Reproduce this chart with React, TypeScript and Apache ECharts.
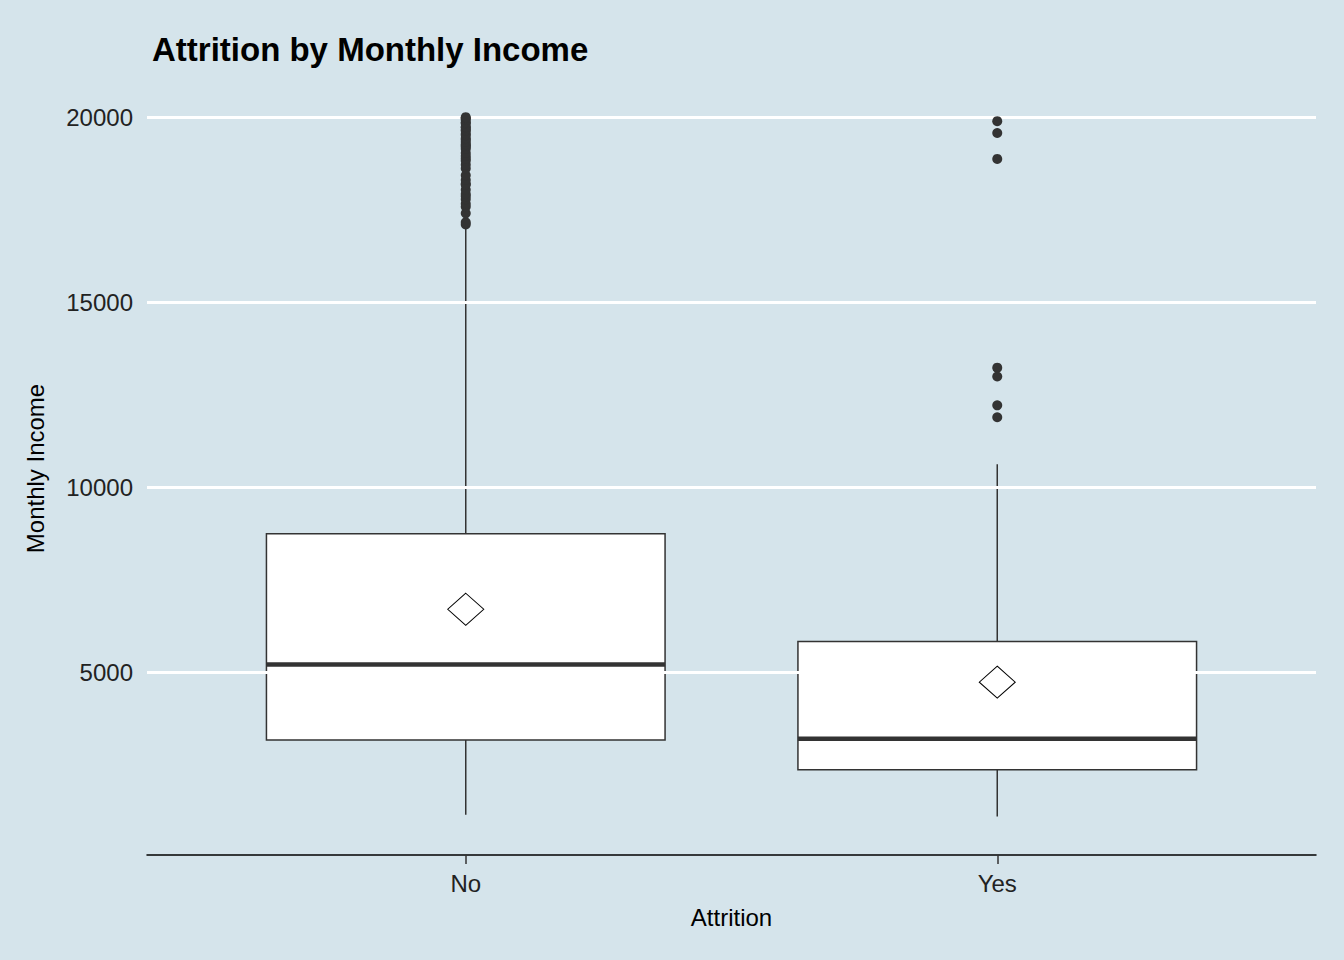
import * as echarts from 'echarts';
import React, { useEffect, useRef } from 'react';

const categories = ['No', 'Yes'];
// [lower whisker, Q1, median, Q3, upper whisker]
const boxValues = [
  [1150, 3170, 5210, 8740, 17100],
  [1100, 2360, 3200, 5830, 10620],
];
const meanValues = [6700, 4730];
const outliersNo = [
  17100, 17160, 17400, 17580, 17660, 17780, 17860, 17920, 18040, 18170, 18200, 18300,
  18430, 18610, 18710, 18820, 18880, 18950, 19030, 19140, 19190, 19230, 19270, 19330,
  19390, 19430, 19510, 19550, 19630, 19660, 19720, 19740, 19830, 19860, 19930, 19970, 19999,
];
const outliersYes = [19890, 19570, 18870, 13230, 12990, 12210, 11890];
const yTicks = [5000, 10000, 15000, 20000];

const Y_MIN = 59;
const Y_MAX = 20949;
const FONT = 'Liberation Sans, Arial, sans-serif';

export default function App() {
  const ref = useRef<HTMLDivElement>(null);

  useEffect(() => {
    if (!ref.current) return;
    const chart = echarts.init(ref.current, null, { renderer: 'svg' });
    const outlierData = [
      ...outliersNo.map((v) => ['No', v]),
      ...outliersYes.map((v) => ['Yes', v]),
    ];
    chart.setOption({
      animation: false,
      backgroundColor: '#d5e4eb',
      title: {
        text: 'Attrition by Monthly Income',
        left: 147,
        top: 28,
        textStyle: { fontFamily: FONT, fontWeight: 'bold', fontSize: 33, color: '#000' },
      },
      grid: [
        { left: 147, right: 28, top: 82, bottom: 105 },
        { left: 200, right: 81, top: 82, bottom: 105 },
      ],
      xAxis: [
        {
          gridIndex: 0,
          type: 'value',
          min: 0,
          max: 1,
          axisLabel: { show: false },
          axisTick: { show: false },
          splitLine: { show: false },
          axisLine: { show: true, lineStyle: { color: '#000', width: 1.5 } },
        },
        {
          gridIndex: 1,
          type: 'category',
          data: categories,
          axisLine: { show: true, lineStyle: { color: 'rgba(0,0,0,0)' } },
          axisTick: { show: true, alignWithLabel: true, length: 9, lineStyle: { color: '#333', width: 1.5 } },
          axisLabel: { fontFamily: FONT, fontSize: 24, color: '#222', margin: 16 },
          name: 'Attrition',
          nameLocation: 'middle',
          nameGap: 50,
          nameTextStyle: { fontFamily: FONT, fontSize: 24, color: '#000' },
        },
      ],
      yAxis: [
        {
          gridIndex: 0,
          type: 'value',
          min: Y_MIN,
          max: Y_MAX,
          axisLine: { show: false },
          axisTick: { show: false },
          axisLabel: {
            fontFamily: FONT,
            fontSize: 24,
            color: '#222',
            margin: 14,
            customValues: yTicks,
            formatter: (v: number) => String(v),
          },
          splitLine: { show: false },
          name: 'Monthly Income',
          nameLocation: 'middle',
          nameGap: 100,
          nameTextStyle: { fontFamily: FONT, fontSize: 24, color: '#000' },
        },
        { gridIndex: 1, type: 'value', min: Y_MIN, max: Y_MAX, show: false },
      ],
      series: [
        {
          type: 'line',
          xAxisIndex: 0,
          yAxisIndex: 0,
          data: [],
          markLine: {
            silent: true,
            symbol: 'none',
            label: { show: false },
            lineStyle: { color: '#fff', width: 3, type: 'solid' },
            data: yTicks.map((v) => ({ yAxis: v })),
          },
        },
        {
          type: 'custom',
          xAxisIndex: 1,
          yAxisIndex: 1,
          data: categories.map((c, i) => [i, ...boxValues[i]]),
          encode: { x: 0, y: [1, 2, 3, 4, 5] },
          z: 3,
          renderItem: (_p: any, api: any) => {
            const i = api.value(0);
            const pLo = api.coord([i, api.value(1)]);
            const pQ1 = api.coord([i, api.value(2)]);
            const pMed = api.coord([i, api.value(3)]);
            const pQ3 = api.coord([i, api.value(4)]);
            const pHi = api.coord([i, api.value(5)]);
            const w = api.size([1, 0])[0] * 0.75;
            const x = pQ1[0];
            const stroke = { stroke: '#333', lineWidth: 1.5 };
            return {
              type: 'group',
              children: [
                { type: 'line', shape: { x1: x, y1: pLo[1], x2: x, y2: pQ1[1] }, style: stroke },
                { type: 'line', shape: { x1: x, y1: pQ3[1], x2: x, y2: pHi[1] }, style: stroke },
                {
                  type: 'rect',
                  shape: { x: x - w / 2, y: pQ3[1], width: w, height: pQ1[1] - pQ3[1] },
                  style: { fill: '#fff', stroke: '#333', lineWidth: 1.5 },
                },
                {
                  type: 'line',
                  shape: { x1: x - w / 2, y1: pMed[1], x2: x + w / 2, y2: pMed[1] },
                  style: { stroke: '#333', lineWidth: 4.5 },
                },
              ],
            };
          },
        },
        {
          type: 'scatter',
          xAxisIndex: 1,
          yAxisIndex: 1,
          data: categories.map((c, i) => [c, meanValues[i]]),
          symbol: 'diamond',
          symbolSize: [36, 32],
          itemStyle: { color: '#fff', borderColor: '#000', borderWidth: 1, opacity: 1 },
          z: 5,
        },
        {
          type: 'scatter',
          xAxisIndex: 1,
          yAxisIndex: 1,
          data: outlierData,
          symbol: 'circle',
          symbolSize: 10,
          itemStyle: { color: '#333', opacity: 1 },
          z: 5,
        },
      ],
    });
    return () => chart.dispose();
  }, []);

  return (
    <div ref={ref} style={{ position: 'fixed', left: 0, top: 0, width: 1344, height: 960 }} />
  );
}
